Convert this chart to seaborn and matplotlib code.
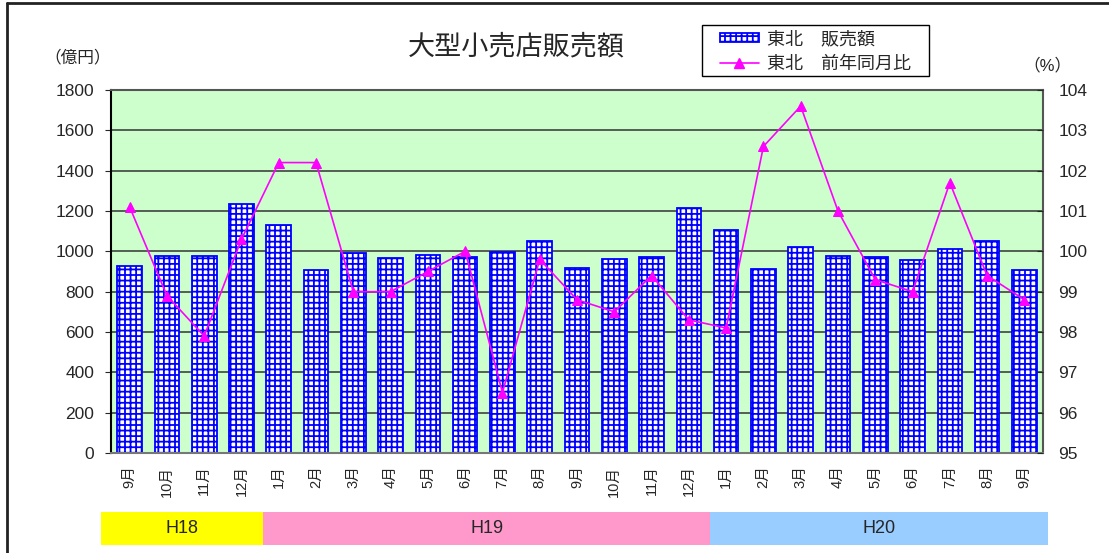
import numpy as np
import pandas as pd
import matplotlib
matplotlib.use("Agg")
import matplotlib.pyplot as plt
import matplotlib.transforms as mtransforms
from matplotlib.patches import Rectangle, Patch
from matplotlib.lines import Line2D
import seaborn as sns

# Data
months = ["9月", "10月", "11月", "12月",
          "1月", "2月", "3月", "4月", "5月", "6月", "7月", "8月", "9月", "10月", "11月", "12月",
          "1月", "2月", "3月", "4月", "5月", "6月", "7月", "8月", "9月"]
sales = [926, 977, 977, 1237,
         1129, 906, 990, 969, 984, 970, 998, 1050, 919, 962, 970, 1215,
         1108, 912, 1020, 977, 970, 955, 1013, 1050, 906]
yoy = [101.1, 98.9, 97.9, 100.3,
       102.2, 102.2, 99.0, 99.0, 99.5, 100.0, 96.5, 99.8, 98.8, 98.5, 99.4, 98.3,
       98.1, 102.6, 103.6, 101.0, 99.3, 99.0, 101.7, 99.4, 98.8]
periods = ["H18", "H19", "H20"]
period_months = [4, 12, 9]
period_colors = ["#FFFF00", "#FF99CC", "#99CCFF"]

sns.set_style("white")
plt.rcParams['font.family'] = ['Liberation Sans', 'Noto Sans CJK JP', 'DejaVu Sans']
plt.rcParams['hatch.color'] = 'blue'
plt.rcParams['hatch.linewidth'] = 1.3

df = pd.DataFrame({"pos": np.arange(len(months)), "sales": sales, "yoy": yoy})

fig = plt.figure(figsize=(11.09, 5.53), dpi=100)
ax = fig.add_axes([0.1001, 0.1808, 0.8404, 0.6565])
ax.set_facecolor("#CCFFCC")

sns.barplot(data=df, x="pos", y="sales", ax=ax, width=0.66,
            color="white", edgecolor="blue", linewidth=1.3, hatch="+++",
            saturation=1)
ax.set_xlim(-0.5, len(months) - 0.5)
ax.set_ylim(0, 1800)
ax.set_yticks(range(0, 1801, 200))
ax.set_xticks(range(len(months)))
ax.set_xticklabels(months, rotation=90, fontsize=10.5)
ax.set_xlabel("")
ax.set_ylabel("")
ax.yaxis.grid(True, color="#333333", linewidth=1.1)
ax.set_axisbelow(True)
ax.tick_params(axis="y", labelsize=12.5, length=4, direction="out", pad=8)
ax.tick_params(axis="x", length=0, pad=9)
for side in ["top", "right"]:
    ax.spines[side].set_color("#555555")
ax.spines["left"].set_color("black")
ax.spines["bottom"].set_color("#777777")
for s in ax.spines.values():
    s.set_linewidth(1.5)

ax2 = ax.twinx()
sns.lineplot(data=df, x="pos", y="yoy", ax=ax2, color="#FF00FF", linewidth=1.2,
             marker="^", markersize=7.5, markeredgecolor="#FF00FF")
ax2.set_ylim(95, 104)
ax2.set_yticks(range(95, 105))
ax2.set_ylabel("")
ax2.set_xlabel("")
ax2.tick_params(axis="y", labelsize=12.5, length=4, direction="in", pad=11)
for s in ax2.spines.values():
    s.set_visible(False)
ax2.set_xlim(-0.5, len(months) - 0.5)

# Period bands below the axis
trans = mtransforms.blended_transform_factory(ax.transData, fig.transFigure)
start = -0.5
x0 = start - 0.27
for i, (name, n, c) in enumerate(zip(periods, period_months, period_colors)):
    x1 = start + n + (0.13 if i == len(periods) - 1 else 0.08)
    ax.add_patch(Rectangle((x0, 0.015), x1 - x0, 0.059, transform=trans,
                           facecolor=c, edgecolor="none", clip_on=False))
    ax.text((x0 + x1) / 2, 0.0445, name, transform=trans, ha="center",
            va="center", fontsize=13)
    start += n
    x0 = x1

fig.text(0.466, 0.915, "大型小売店販売額", ha="center", va="center", fontsize=19.5)
fig.text(0.040, 0.896, "（億円）", ha="left", va="center", fontsize=12)
fig.text(0.923, 0.882, "（%）", ha="left", va="center", fontsize=12)

# Legend: entries without frame, frame drawn as a separate box
handles = [Patch(facecolor="white", edgecolor="blue", hatch="+++", linewidth=1.3),
           Line2D([0], [0], color="#FF00FF", linewidth=1.2, marker="^", markersize=7.5)]
fig.legend(handles, ["東北　販売額", "東北　前年同月比"], loc="upper left",
           bbox_to_anchor=(720 / 1109, 1 - 31 / 553), fontsize=13, frameon=False,
           handlelength=2.15, handleheight=0.45, borderpad=0,
           labelspacing=0.45, handletextpad=0.45, borderaxespad=0)
fig.add_artist(Rectangle((702 / 1109, 1 - 76 / 553), 227 / 1109, 51 / 553,
                         transform=fig.transFigure, facecolor="none",
                         edgecolor="black", linewidth=1.0))

# Outer border (left and top)
fig.add_artist(Line2D([7 / 1109, 7 / 1109], [0, 1 - 3 / 553], color="#222222",
                      linewidth=2, transform=fig.transFigure))
fig.add_artist(Line2D([7 / 1109, 1], [1 - 3 / 553, 1 - 3 / 553], color="#222222",
                      linewidth=2, transform=fig.transFigure))

fig.savefig("out.png", dpi=100)
